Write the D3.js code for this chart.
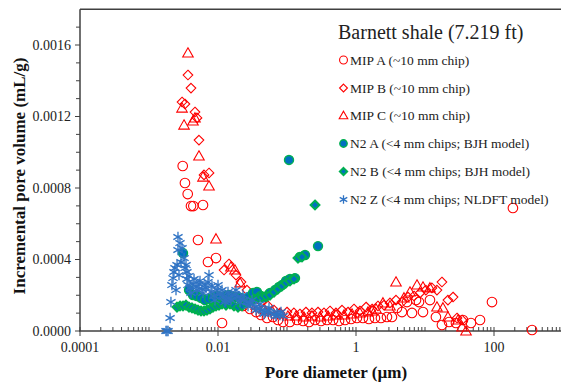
<!DOCTYPE html>
<html><head><meta charset="utf-8">
<script src="https://cdn.jsdelivr.net/npm/d3@7"></script>
<style>body{margin:0;background:#fff}svg{display:block}</style>
</head><body><svg id="c" width="561" height="382"></svg>
<script>
const xTickValues=[0.0001,0.01,1,100];
const xTickLabels=["0.0001","0.01","1","100"];
const yTickValues=[0,0.0004,0.0008,0.0012,0.0016];
const xTitle="Pore diameter (\u00b5m)";
const yTitle="Incremental pore volume (mL/g)";
const legendTitle="Barnett shale (7.219 ft)";
const seriesNames=["MIP A (~10 mm chip)","MIP B (~10 mm chip)","MIP C (~10 mm chip)","N2 A (<4 mm chips; BJH model)","N2 B (<4 mm chips; BJH model)","N2 Z (<4 mm chips; NLDFT model)"];

// [pore diameter (µm), incremental pore volume (mL/g)]
const mipA=[[0.00308,0.000923],[0.00332,0.000828],[0.00364,0.000766],[0.00406,0.000699],[0.00439,0.000699],[0.00606,0.000705],[0.00513,0.000509],[0.00716,0.000386],[0.00935,0.000408],[0.01143,0.0000448],
[0.0176,0.000173],[0.0230,0.000140],[0.0291,0.000123],[0.0356,0.000106],[0.0420,0.0000895],[0.0513,0.0000727],[0.0627,0.0000783],[0.0741,0.0000615],[0.0875,0.0000503],[0.110,0.0000503],[0.140,0.0000615],[0.171,0.0000559],[0.209,0.0000503],[0.255,0.0000615],[0.311,0.0000559],[0.380,0.0000615],[0.465,0.0000615],[0.568,0.0000559],[0.694,0.0000615],[0.848,0.0000671],[1.03,0.0000727],[1.26,0.0000727],[1.54,0.0000671],[1.88,0.0000727],[2.30,0.0000727],[2.81,0.0000783],[3.32,0.0000783],[3.93,0.000129],[4.64,0.000106],[5.48,0.000162],[6.48,0.000101],[7.41,0.000173],[8.19,0.000162],[9.35,0.000106],[11.8,0.000173],[14.4,0.0000783],[17.6,0.0000336],[22.3,0.0000503],[28.1,0.0000448],[35.5,0.0000615],[46.4,0.0000448],[62.7,0.0000615],[93.5,0.000162],[188,0.000688],[356,0.0000056]];
const mipB=[[0.00367,0.001432],[0.00406,0.001359],[0.00301,0.001281],[0.00332,0.001270],[0.00464,0.001225],[0.00496,0.001192],[0.00530,0.001068],[0.00741,0.000884],[0.00627,0.000873],
[0.01223,0.000341],[0.01442,0.000375],[0.01824,0.000313],[0.02154,0.000274],[0.0263,0.000229],[0.0333,0.000196],[0.0420,0.000162],[0.0531,0.000140],[0.0649,0.000117],[0.0792,0.000101],[0.100,0.000106],[0.126,0.000101],[0.154,0.0000951],[0.188,0.000106],[0.230,0.000101],[0.281,0.000106],[0.344,0.000101],[0.420,0.000112],[0.513,0.000101],[0.627,0.000117],[0.766,0.000106],[0.935,0.000123],[1.14,0.000112],[1.40,0.000134],[1.71,0.000123],[2.08,0.000140],[2.55,0.000145],[3.11,0.000157],[3.80,0.000173],[4.64,0.000162],[5.67,0.000190],[6.93,0.000196],[8.47,0.000213],[10.3,0.000229],[12.6,0.000241],[14.9,0.000229],[17.6,0.000274],[21.5,0.000173],[25.5,0.000190],[29.1,0.0000727],[34.4,0.0000615]];
const mipC=[[0.00367,0.001555],[0.00301,0.001247],[0.00322,0.001152],[0.00434,0.001175],[0.00464,0.001192],[0.00530,0.000979],[0.00606,0.000861],[0.00741,0.000811],[0.00935,0.000515],[0.01541,0.000358],[0.01760,0.000341],[0.02085,0.000269],
[0.02722,0.000173],[0.0356,0.000145],[0.0464,0.000123],[0.0607,0.000112],[0.0792,0.0000951],[0.103,0.0000839],[0.135,0.0000839],[0.176,0.0000783],[0.230,0.0000839],[0.301,0.0000783],[0.393,0.0000839],[0.513,0.0000895],[0.670,0.0000895],[0.875,0.0000951],[1.14,0.000101],[1.49,0.000106],[1.71,0.000112],[1.95,0.000123],[2.46,0.000157],[3.11,0.000140],[3.80,0.000274],[4.96,0.000185],[6.06,0.000218],[7.66,0.000257],[9.35,0.000246],[11.8,0.000241],[14.9,0.000134],[18.2,0.000129],[21.5,0.0000783],[30.1,0.0000615],[34.4,0.0000224],[39.3,0]];
const n2A=[[0.00311,0.000436],[0.00380,0.000229],[0.00434,0.000201],[0.00496,0.000196],[0.00567,0.000185],[0.00648,0.000173],[0.00741,0.000179],[0.00846,0.000185],[0.00967,0.000196],[0.01105,0.000190],[0.01263,0.000196],[0.01443,0.000201],[0.01649,0.000190],[0.01885,0.000190],[0.02154,0.000185],[0.02462,0.000173],[0.02814,0.000190],[0.03216,0.000213],[0.03674,0.000218],[0.04199,0.000196],[0.04800,0.000190],[0.05672,0.000213],[0.06702,0.000229],[0.07659,0.000246],[0.08464,0.000257],[0.09671,0.000280],[0.1105,0.000291],[0.1306,0.000296],[0.1543,0.000414],[0.1824,0.000425],[0.2814,0.000475],[0.1069,0.000957]];
const n2B=[[0.002545,0.000134],[0.002813,0.000140],[0.003110,0.000140],[0.003437,0.000145],[0.003799,0.000134],[0.004199,0.000129],[0.004642,0.000123],[0.005131,0.000117],[0.005671,0.000112],[0.006268,0.000112],[0.006928,0.000117],[0.007657,0.000123],[0.008464,0.000134],[0.009355,0.000140],[0.01034,0.000145],[0.01143,0.000151],[0.01306,0.000145],[0.01492,0.000151],[0.01705,0.000140],[0.01949,0.000134],[0.02227,0.000140],[0.02546,0.000157],[0.02909,0.000168],[0.03325,0.000179],[0.03799,0.000185],[0.04342,0.000190],[0.04963,0.000196],[0.05672,0.000201],[0.06482,0.000218],[0.07408,0.000235],[0.08464,0.000252],[0.09671,0.000269],[0.1105,0.000280],[0.1263,0.000291],[0.1443,0.000408],[0.1650,0.000414],[0.2546,0.000705]];
const n2Z=[[0.00176,0],[0.00182,0],[0.00189,0],[0.00202,0.0000727],[0.00208,0.000162],[0.00215,0.000257],[0.00223,0.000296],[0.00230,0.000330],[0.00238,0.000352],[0.002462,0.000229],[0.00255,0.000369],[0.00263,0.000453],[0.00263,0.000526],[0.002721,0.000313],[0.00281,0.000492],[0.002909,0.000386],[0.00301,0.000464],[0.00322,0.000408],[0.003325,0.000352],[0.00344,0.000369],[0.00355,0.000330],[0.00355,0.000291],[0.00367,0.000257],[0.003799,0.000308],[0.00393,0.000241],[0.004064,0.000213],[0.00434,0.000263],[0.004493,0.000291],[0.00480,0.000246],[0.004962,0.000229],[0.00531,0.000263],[0.005485,0.000280],[0.00586,0.000235],[0.006059,0.000213],[0.00648,0.000257],[0.006700,0.000241],[0.00716,0.000274],[0.007406,0.000313],[0.00792,0.000218],[0.008185,0.000252],[0.00875,0.000196],[0.009048,0.000173],[0.00967,0.000229],[0.0100,0.000257],[0.01069,0.000207],[0.01143,0.000229],[0.01182,0.000190],[0.01263,0.000162],[0.01306,0.000173],[0.01396,0.000218],[0.01443,0.000185],[0.01541,0.000173],[0.01595,0.000196],[0.01763,0.000207],[0.01823,0.000229],[0.01949,0.000190],[0.02085,0.000162],[0.02154,0.000179],[0.02303,0.000201],[0.02381,0.000173],[0.02632,0.000162],[0.02722,0.000140],[0.02909,0.000157],[0.03110,0.000173],[0.03216,0.000145],[0.03553,0.000134],[0.03553,0.000117],[0.03928,0.000123],[0.04064,0.000151],[0.04342,0.000117],[0.04642,0.0000951],[0.04800,0.000106],[0.05306,0.000112],[0.05485,0.000129],[0.05864,0.000101],[0.06482,0.0000951],[0.06928,0.0000839],[0.07165,0.000101],[0.07919,0.0000895],[0.08185,0.000106],[0.08751,0.0000839]];

const FONT="'Liberation Serif','Times New Roman',Times,serif";
const svg=d3.select("#c");
const x=d3.scaleLog().domain([1e-4,1e4]).range([80,632]);
const y=d3.scaleLinear().domain([0,0.0018]).range([331,9.25]);
const axisCol="#404040";
const red="#FF0000", blue="#0070C0", green="#00B050", starBlue="#2f73c4";

function circleM(g,cx,cy,st){g.append("circle").attr("cx",cx).attr("cy",cy).attr("r",st.r).attr("fill",st.fill).attr("stroke",st.stroke).attr("stroke-width",st.sw);}
function diamondM(g,cx,cy,st){const h=st.r;g.append("path").attr("d",`M${cx},${cy-h}L${cx+h},${cy}L${cx},${cy+h}L${cx-h},${cy}Z`).attr("fill",st.fill).attr("stroke",st.stroke).attr("stroke-width",st.sw);}
function triM(g,cx,cy,st){const h=st.r;g.append("path").attr("d",`M${cx},${cy-h*1.05}L${cx+h*1.05},${cy+h*0.8}L${cx-h*1.05},${cy+h*0.8}Z`).attr("fill",st.fill).attr("stroke",st.stroke).attr("stroke-width",st.sw);}
function starM(g,cx,cy,st){const h=st.r,a=h*0.87,b=h*0.5;g.append("path").attr("d",`M${cx},${cy-h}L${cx},${cy+h}M${cx-a},${cy-b}L${cx+a},${cy+b}M${cx-a},${cy+b}L${cx+a},${cy-b}`).attr("fill","none").attr("stroke",st.stroke).attr("stroke-width",st.sw);}

const series=[
 {data:mipA,f:circleM,st:{r:4.8,fill:"none",stroke:red,sw:1.1}},
 {data:mipB,f:diamondM,st:{r:4.8,fill:"none",stroke:red,sw:1.1}},
 {data:mipC,f:triM,st:{r:5,fill:"none",stroke:red,sw:1.1}},
 {data:n2A,f:circleM,st:{r:4.5,fill:blue,stroke:green,sw:1.4}},
 {data:n2B,f:diamondM,st:{r:4.5,fill:blue,stroke:green,sw:1.9}},
 {data:n2Z,f:starM,st:{r:5.3,fill:"none",stroke:starBlue,sw:1.3}}
];

const ax=svg.append("g");
ax.append("line").attr("x1",80).attr("x2",80).attr("y1",y(0.0018)).attr("y2",y(0)).attr("stroke",axisCol).attr("stroke-width",1.5);
ax.append("line").attr("x1",80).attr("x2",561).attr("y1",y(0.0018)).attr("y2",y(0.0018)).attr("stroke",axisCol).attr("stroke-width",1.5);
ax.append("line").attr("x1",79).attr("x2",561).attr("y1",y(0)).attr("y2",y(0)).attr("stroke",axisCol).attr("stroke-width",1.5);
for(let i=1;i<=17;i++){const v=i*0.0001;const isMaj=i%4===0;ax.append("line").attr("x1",isMaj?75:76).attr("x2",80).attr("y1",y(v)).attr("y2",y(v)).attr("stroke",axisCol).attr("stroke-width",1);}
ax.append("line").attr("x1",75).attr("x2",80).attr("y1",y(0)).attr("y2",y(0)).attr("stroke",axisCol).attr("stroke-width",1);
yTickValues.forEach(v=>ax.append("text").attr("x",71).attr("y",y(v)+4.5).attr("text-anchor","end").attr("font-family",FONT).attr("font-size",14).attr("fill","#222").text(d3.format(".4f")(v)));
for(let e=-4;e<4;e++){for(let k=1;k<10;k++){const v=k*Math.pow(10,e);const px=x(v);if(px>561)continue;
 const maj=(k===1&&e%2===0);
 ax.append("line").attr("x1",px).attr("x2",px).attr("y1",y(0)-4).attr("y2",y(0)+(maj?5:0)).attr("stroke",axisCol).attr("stroke-width",1);}}
xTickValues.forEach((v,i)=>ax.append("text").attr("x",x(v)).attr("y",352).attr("text-anchor","middle").attr("font-family",FONT).attr("font-size",14).attr("fill","#222").text(xTickLabels[i]));
svg.append("text").attr("x",336).attr("y",378).attr("text-anchor","middle").attr("font-family",FONT).attr("font-size",17).attr("font-weight","bold").attr("fill","#111").text(xTitle);
svg.append("text").attr("transform","translate(25,176) rotate(-90)").attr("text-anchor","middle").attr("font-family",FONT).attr("font-size",17).attr("font-weight","bold").attr("fill","#111").text(yTitle);

const pg=svg.append("g");
series.forEach(s=>{s.data.forEach(d=>s.f(pg,x(d[0]),y(d[1]),s.st));});

const lg=svg.append("g");
lg.append("text").attr("x",338).attr("y",39).attr("font-family",FONT).attr("font-size",20).attr("fill","#222").text(legendTitle);
const ly=[60,88,115.5,143.5,171.5,199.5];
series.forEach((s,i)=>{const st=Object.assign({},s.st,{r:s.st.r*0.82});s.f(lg,343.5,ly[i],st);
 lg.append("text").attr("x",350).attr("y",ly[i]+4.5).attr("font-family",FONT).attr("font-size",13.5).attr("fill","#222").text(seriesNames[i]);});
</script></body></html>
